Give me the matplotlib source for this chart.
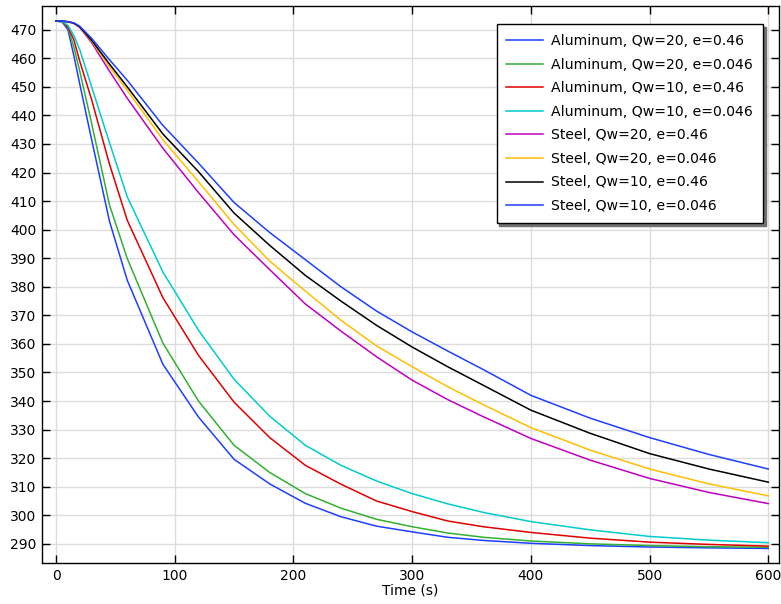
import numpy as np
import matplotlib
matplotlib.use("Agg")
import matplotlib.pyplot as plt

# time points (s)
time = [0, 5, 10, 15, 20, 30, 45, 60, 90, 120, 150, 180, 210, 240, 270,
        300, 330, 360, 400, 450, 500, 550, 600]

# temperatures (K)
al_qw20_e046 = [473, 472.8, 470, 461, 451, 431.5, 403, 382.3, 352.9, 334.4, 319.6, 311,
                304.2, 299.5, 296.2, 294.2, 292.3, 291.2, 290.2, 289.4, 288.9, 288.6, 288.4]
al_qw20_e0046 = [473, 472.8, 470.8, 464, 455.5, 437.2, 408.7, 389.9, 360.3, 340, 324.5, 315,
                 307.6, 302.5, 298.6, 296, 293.8, 292.3, 291, 290, 289.4, 289, 288.8]
al_qw10_e046 = [473, 472.9, 471, 466.5, 459, 445.5, 423, 403.3, 376.2, 356, 339.6, 327.2,
                317.5, 310.9, 305, 301.3, 298, 296, 294, 292, 290.6, 289.8, 289.2]
al_qw10_e0046 = [473, 472.9, 471.5, 468, 463, 450, 430.5, 411.5, 385.2, 364.8, 347.6, 334.7,
                 324.5, 317.5, 312, 307.6, 304, 301, 297.8, 294.9, 292.6, 291.3, 290.4]
st_qw20_e046 = [473, 473, 472.8, 472.2, 470.8, 465.5, 455.5, 446, 428.5, 413, 398.2, 386,
                374, 364.5, 355.5, 347.3, 340.5, 334.5, 326.9, 319.3, 312.9, 308, 304.1]
st_qw20_e0046 = [473, 473, 472.8, 472.3, 471, 466, 457, 448.8, 431.5, 416.8, 401.8, 389,
                 378.5, 368.3, 359.3, 352, 345, 338.7, 330.7, 322.8, 316.2, 311, 306.8]
st_qw10_e046 = [473, 473, 472.8, 472.3, 471, 466.3, 458, 450, 433.5, 420.3, 405.8, 394.5,
                384, 375, 366.5, 358.9, 352, 345.5, 336.8, 328.7, 321.6, 316.2, 311.6]
st_qw10_e0046 = [473, 473, 472.8, 472.4, 471.2, 467, 459.5, 452.3, 436.5, 423.3, 409.5, 399,
                 389.5, 380, 371.5, 364.2, 357.5, 351, 342, 334, 327.2, 321.3, 316.2]

labels = ["Aluminum, Qw=20, e=0.46", "Aluminum, Qw=20, e=0.046",
          "Aluminum, Qw=10, e=0.46", "Aluminum, Qw=10, e=0.046",
          "Steel, Qw=20, e=0.46", "Steel, Qw=20, e=0.046",
          "Steel, Qw=10, e=0.46", "Steel, Qw=10, e=0.046"]
colors = ["#1f3fff", "#33b033", "#e00000", "#00cccc",
          "#c000c0", "#ffbf00", "#000000", "#1f3fff"]
series = [al_qw20_e046, al_qw20_e0046, al_qw10_e046, al_qw10_e0046,
          st_qw20_e046, st_qw20_e0046, st_qw10_e046, st_qw10_e0046]

fig = plt.figure(figsize=(7.81, 6.04), dpi=100)
ax = fig.add_axes([42 / 781, 1 - 563 / 604, 737 / 781, 557 / 604])

for y, c, lab in zip(series, colors, labels):
    ax.plot(time, y, color=c, lw=1.1, label=lab)

ax.set_xlim(-11.8, 609)
ax.set_ylim(283.3, 478.3)
ax.set_xticks(np.arange(0, 601, 100))
ax.set_yticks(np.arange(290, 471, 10))
ax.grid(True, color="#dcdcdc", lw=1)
ax.set_axisbelow(True)
ax.tick_params(direction="in", length=5.5, width=1, top=True, right=True,
               labelsize=10, pad=4)
for s in ax.spines.values():
    s.set_linewidth(1)
ax.set_xlabel("Time (s)", fontsize=10, labelpad=1)

leg = ax.legend(loc="upper right", bbox_to_anchor=(0.978, 0.967), borderaxespad=0,
                fancybox=False, framealpha=1, edgecolor="black", fontsize=10.1,
                handlelength=2.6, handletextpad=0.6, labelspacing=0.68,
                borderpad=0.7, shadow={"color": "#707070", "alpha": 1})
leg.get_frame().set_linewidth(1)

fig.savefig("out.png", dpi=100)
